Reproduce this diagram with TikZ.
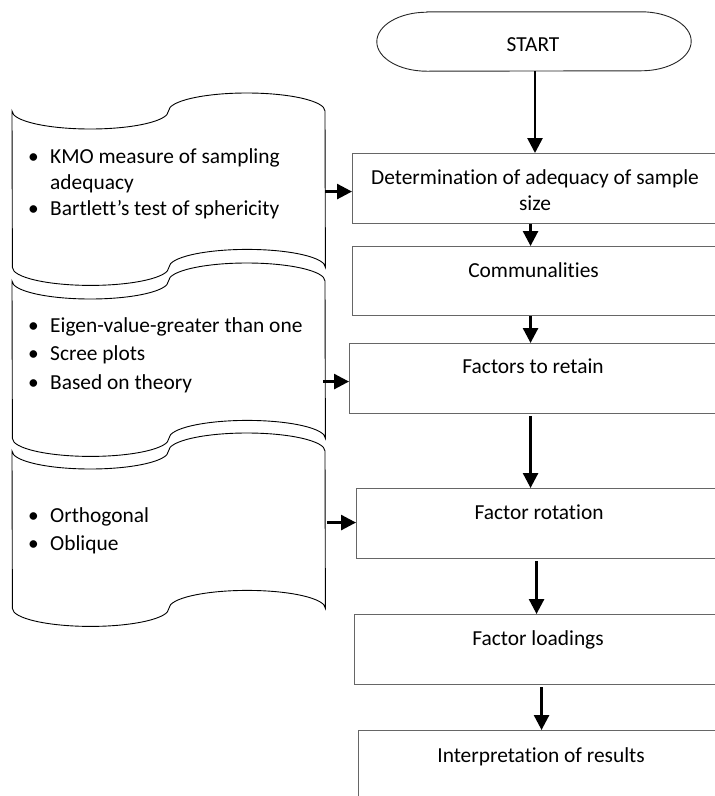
\documentclass[tikz,border=0pt]{standalone}
\usepackage{fontspec}
\setmainfont{Carlito}[Ligatures=NoCommon]
\usetikzlibrary{arrows.meta,calc}
\definecolor{boxgray}{HTML}{666666}
% bullet with a fixed hanging indent
\newcommand\blt{\makebox[22pt][l]{•}}
\begin{document}
\begin{tikzpicture}[x=1pt,y=1pt,
  stepbox/.style={draw=boxgray,line width=1.1pt,rectangle,inner sep=0pt,
    minimum width=368pt,minimum height=70pt,anchor=north west},
  frame/.style={rectangle,inner sep=0pt,anchor=north west},
  outline/.style={draw=black,line width=0.9pt,fill=white},
  flow/.style={line width=2.7pt,-{Triangle[length=15pt,width=15pt]}},
  boxtext/.style={font=\fontsize{21.4}{25.5}\selectfont,inner sep=0pt,anchor=base},
  listtext/.style={inner sep=0pt,anchor=base west}]

\useasboundingbox (0,0) rectangle (715,-796);
\clip (0,0) rectangle (715,-796);

% ---- punched-tape shapes on the left ----
\newcommand\tape[1]{%
  \draw[outline] (#1.north west)
    arc[start angle=180,end angle=360,x radius=78.25,y radius=18]
    arc[start angle=180,end angle=0,x radius=78.25,y radius=18]
    -- (#1.south east)
    arc[start angle=0,end angle=180,x radius=78.25,y radius=18]
    arc[start angle=360,end angle=180,x radius=78.25,y radius=18]
    -- cycle;}

\node[frame,minimum width=313pt,minimum height=156pt] (s1) at (12,-111) {};
\node[frame,minimum width=313pt,minimum height=157pt] (s2) at (12,-281) {};
\node[frame,minimum width=313pt,minimum height=157pt] (s3) at (12,-451) {};
\tape{s1}
\tape{s2}
\tape{s3}

\node[listtext] at (28,-163) {\fontsize{21.4}{26}\selectfont
  \begin{tabular}[t]{@{}l@{}l@{}}
    \blt & KMO measure of sampling\\
         & adequacy\\
    \blt & Bartlett’s test of sphericity
  \end{tabular}};
\node[listtext] at (28,-332) {\fontsize{21.4}{28.5}\selectfont
  \begin{tabular}[t]{@{}l@{}l@{}}
    \blt & Eigen-value-greater than one\\
    \blt & Scree plots\\
    \blt & Based on theory
  \end{tabular}};
\node[listtext] at (28,-522) {\fontsize{21.4}{28}\selectfont
  \begin{tabular}[t]{@{}l@{}l@{}}
    \blt & Orthogonal\\
    \blt & Oblique
  \end{tabular}};

% ---- terminator ----
\node[rectangle,inner sep=0pt,minimum width=314pt,minimum height=59pt] (start) at (534,-41.5) {};
\draw[draw=black!85,line width=0.9pt]
  ([xshift=50pt]start.north west) -- ([xshift=-50pt]start.north east)
  arc[start angle=90,end angle=-90,x radius=50,y radius=29.5]
  -- ([xshift=50pt]start.south west)
  arc[start angle=270,end angle=90,x radius=50,y radius=29.5] -- cycle;
\node[boxtext] at ($(start.north)+(-1,-39.7)$) {START};

% ---- process steps ----
\node[stepbox] (b1) at (352,-153) {};
\node[stepbox,minimum height=69pt] (b2) at (352,-246) {};
\node[stepbox] (b3) at (349,-343) {};
\node[stepbox] (b4) at (356,-488) {};
\node[stepbox] (b5) at (354,-614) {};
\node[stepbox,minimum height=100pt] (b6) at (358,-730) {};

\node[boxtext] at ($(b1.north)+(-1.5,-31.5)$)
  {\begin{tabular}[t]{@{}c@{}}Determination of adequacy of sample\\size\end{tabular}};
\node[boxtext] at ($(b2.north)+(-3,-31)$) {Communalities};
\node[boxtext] at ($(b3.north)+(-0.5,-30.5)$) {Factors to retain};
\node[boxtext] at ($(b4.north)+(-1.5,-31)$) {Factor rotation};
\node[boxtext] at ($(b5.north)+(-0.5,-31)$) {Factor loadings};
\node[boxtext] at ($(b6.north)+(-1.5,-32)$) {Interpretation of results};

% ---- vertical flow ----
\draw[flow] ([xshift=1pt]start.south) -- ([xshift=1pt]start.south |- b1.north);
\draw[flow] ([xshift=-6pt]b1.south) -- ([xshift=-6pt]b1.south |- b2.north);
\draw[flow] ([xshift=-6pt]b2.south) -- ([xshift=-6pt]b2.south |- b3.north);
\draw[flow] ([xshift=-3pt,yshift=-2pt]b3.south) -- ([xshift=-3pt]b3.south |- b4.north);
\draw[flow] ([xshift=-4pt,yshift=-2pt]b4.south) -- ([xshift=-4pt]b4.south |- b5.north);
\draw[flow] ([xshift=3pt,yshift=-2pt]b5.south) -- ([xshift=3pt]b5.south |- b6.north);

% ---- inputs from the tapes ----
\coordinate (h1) at ($(b1.west)+(0,-3)$);
\coordinate (h2) at ($(b3.west)+(0,-3)$);
\coordinate (h3) at ($(b4.west)+(0,1)$);
\draw[flow] (s1.east |- h1) -- (h1);
\draw[flow] ([xshift=-2pt]s2.east |- h2) -- (h2);
\draw[flow] ([xshift=2pt]s3.east |- h3) -- (h3);
\end{tikzpicture}
\end{document}
